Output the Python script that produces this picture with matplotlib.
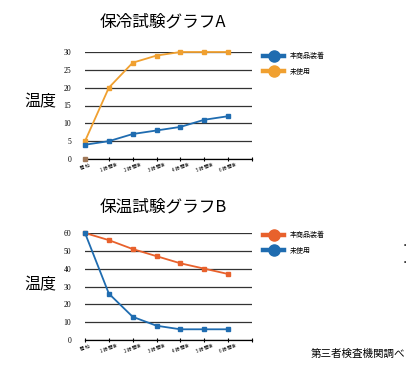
import matplotlib.pyplot as plt
from matplotlib.lines import Line2D

plt.rcParams['font.family'] = ['Noto Sans CJK JP', 'DejaVu Sans']

# data
hours = ['開 始', '1 時 間後', '2 時 間後', '3 時 間後', '4 時 間後', '5 時 間後', '6 時 間後', '']
cold_product = [4, 5, 7, 8, 9, 11, 12]
cold_unused = [5, 20, 27, 29, 30, 30, 30]
cold_base = [0]
warm_product = [60, 56, 51, 47, 43, 40, 37]
warm_unused = [60, 26, 13, 8, 6, 6, 6]
label_product = '本商品装着'
label_unused = '未使用'

blue = '#1f6cb0'
orange_a = '#f0a030'
orange_b = '#e8612c'

W, H = 407, 365
fig = plt.figure(figsize=(W / 100, H / 100), dpi=100)


def px_axes(x0, y0, x1, y1):
    return fig.add_axes([x0 / W, 1 - y1 / H, (x1 - x0) / W, (y1 - y0) / H])


def style(ax, ymax, step):
    ax.set_xlim(0, 7)
    ax.set_ylim(0, ymax)
    ax.set_xticks(range(len(hours)))
    ax.set_xticklabels(hours, rotation=20, fontsize=3.2, ha='center')
    ax.set_yticks(range(0, ymax + 1, step))
    ax.set_yticklabels([str(v) for v in range(0, ymax + 1, step)],
                       fontsize=5.5, family='Liberation Serif')
    ax.tick_params(axis='y', length=0, pad=10)
    ax.tick_params(axis='x', length=3, width=0.8, direction='inout', pad=1)
    for s in ['left', 'top', 'right']:
        ax.spines[s].set_visible(False)
    ax.spines['bottom'].set_linewidth(0.9)
    ax.yaxis.grid(True, color='#333333', lw=0.9)
    ax.set_axisbelow(True)


def legend(ax, items, x, y):
    handles = [Line2D([], [], color=c, lw=3.2, marker='o', ms=8) for c, _ in items]
    ax.legend(handles, [t for _, t in items], loc='upper left',
              bbox_to_anchor=(x / W, 1 - y / H), bbox_transform=fig.transFigure,
              frameon=False, fontsize=5, handlelength=3.0, labelspacing=1.1,
              handletextpad=0.8)


# chart A
axA = px_axes(85, 52, 252, 159)
style(axA, 30, 5)
x = range(len(cold_product))
axA.plot(x, cold_unused, color=orange_a, lw=1.3, marker='s', ms=3.5, clip_on=False, zorder=3)
axA.plot(x, cold_product, color=blue, lw=1.3, marker='s', ms=3.5, clip_on=False, zorder=4)
axA.plot(range(len(cold_base)), cold_base, color='#a07858', marker='s', ms=3.5,
         ls='none', clip_on=False, zorder=5)
legend(axA, [(blue, label_product), (orange_a, label_unused)], 257, 46)
fig.text(163 / W, 1 - 22 / H, '保冷試験グラフA', fontsize=12, ha='center', va='center')
fig.text(40 / W, 1 - 102 / H, '温度', fontsize=11.5, ha='center', va='center')

# chart B
axB = px_axes(85, 233, 252, 340)
style(axB, 60, 10)
axB.plot(x, warm_product, color=orange_b, lw=1.3, marker='s', ms=3.5, clip_on=False, zorder=3)
axB.plot(x, warm_unused, color=blue, lw=1.3, marker='s', ms=3.5, clip_on=False, zorder=4)
legend(axB, [(orange_b, label_product), (blue, label_unused)], 257, 225)
fig.text(163 / W, 1 - 207 / H, '保温試験グラフB', fontsize=12, ha='center', va='center')
fig.text(40 / W, 1 - 285 / H, '温度', fontsize=11.5, ha='center', va='center')

fig.text(405 / W, 1 - 354 / H, '第三者検査機関調べ', fontsize=7.6, ha='right', va='center')
fig.text(406 / W, 1 - 245 / H, '•', fontsize=5, ha='right', va='center')
fig.text(406 / W, 1 - 262 / H, '•', fontsize=5, ha='right', va='center')

fig.savefig('out.png', dpi=100)
